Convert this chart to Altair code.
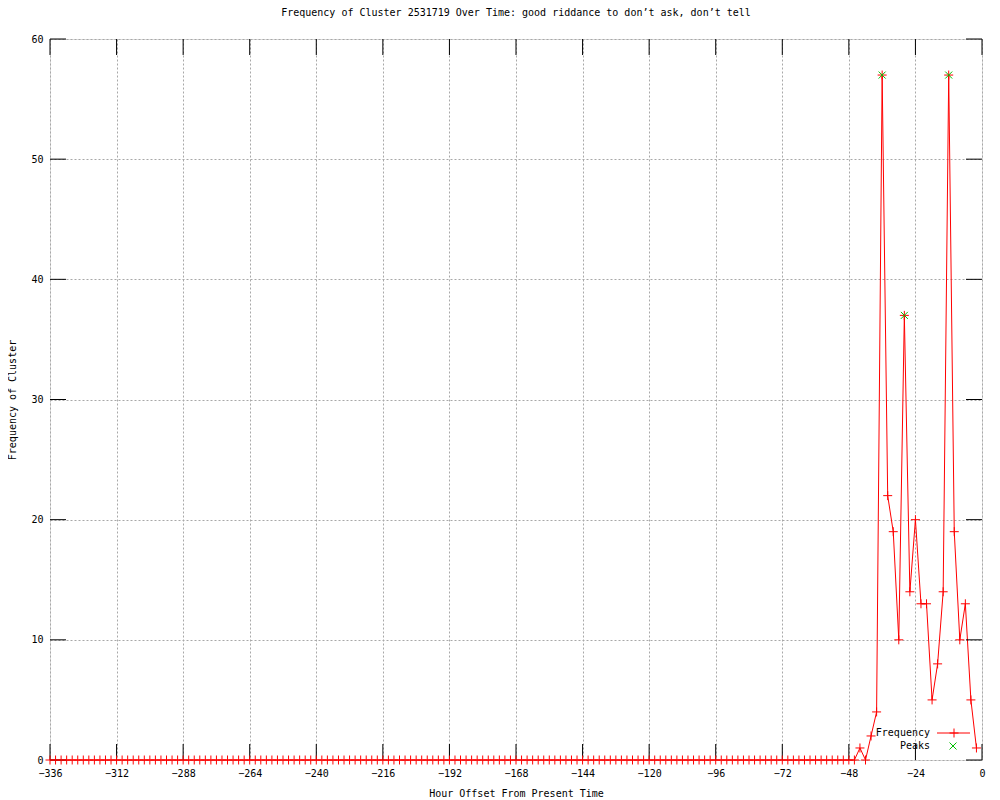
import altair as alt
import pandas as pd

# ---- data ----
hours = list(range(-336, 0, 2))
freq = [
    0, 0, 0, 0, 0, 0, 0, 0, 0, 0, 0, 0, 0, 0, 0, 0, 0, 0, 0, 0,
    0, 0, 0, 0, 0, 0, 0, 0, 0, 0, 0, 0, 0, 0, 0, 0, 0, 0, 0, 0,
    0, 0, 0, 0, 0, 0, 0, 0, 0, 0, 0, 0, 0, 0, 0, 0, 0, 0, 0, 0,
    0, 0, 0, 0, 0, 0, 0, 0, 0, 0, 0, 0, 0, 0, 0, 0, 0, 0, 0, 0,
    0, 0, 0, 0, 0, 0, 0, 0, 0, 0, 0, 0, 0, 0, 0, 0, 0, 0, 0, 0,
    0, 0, 0, 0, 0, 0, 0, 0, 0, 0, 0, 0, 0, 0, 0, 0, 0, 0, 0, 0,
    0, 0, 0, 0, 0, 0, 0, 0, 0, 0, 0, 0, 0, 0, 0, 0, 0, 0, 0, 0,
    0, 0, 0, 0, 0, 0,
    1, 0, 2, 4, 57, 22, 19, 10, 37, 14, 20, 13, 13, 5, 8, 14, 57, 19, 10, 13, 5, 1,
]
peak_hours = [-36, -28, -12]
peak_values = [57, 37, 57]
x_ticks = list(range(-336, 1, 24))
y_ticks = [0, 10, 20, 30, 40, 50, 60]
legend_labels = ["Frequency", "Peaks"]

FONT = "DejaVu Sans Mono"
W, H = 932, 721
TL = 16
RED = "#ff0000"
GREEN = "#00c000"
PLUS = "M-1,0L1,0M0,-1L0,1"
XSHAPE = "M-1,-1L1,1M-1,1L1,-1"

df = pd.DataFrame({"h": hours, "f": freq})
peaks = pd.DataFrame({"h": peak_hours, "f": peak_values})
xt = pd.DataFrame({"t": x_ticks})
yt = pd.DataFrame({"t": y_ticks})

xscale = alt.Scale(domain=[-336, 0], nice=False, zero=False)
yscale = alt.Scale(domain=[0, 60], nice=False)

common = dict(grid=True, gridDash=[2, 2], gridColor="#a8a8a8", ticks=False, tickSize=0,
              domain=False, labelFont=FONT, labelFontSize=10, labelColor="black",
              titleFont=FONT, titleFontSize=10, titleFontWeight="normal", titleColor="black")
xaxis = alt.Axis(values=x_ticks, title="Hour Offset From Present Time",
                 labelPadding=8, titlePadding=10, labelFlush=False, **common)
yaxis = alt.Axis(values=y_ticks, title="Frequency of Cluster",
                 labelPadding=7, titlePadding=13, **common)

base = alt.Chart(df)
line = base.mark_line(color=RED, strokeWidth=1).encode(
    x=alt.X("h:Q", scale=xscale, axis=xaxis),
    y=alt.Y("f:Q", scale=yscale, axis=yaxis),
)
pts = base.mark_point(shape=PLUS, filled=False, color=RED, size=81, strokeWidth=1, opacity=1).encode(
    x=alt.X("h:Q", scale=xscale), y=alt.Y("f:Q", scale=yscale)
)
pk = alt.Chart(peaks).mark_point(shape=XSHAPE, filled=False, color=GREEN, size=49, strokeWidth=1, opacity=1).encode(
    x=alt.X("h:Q", scale=xscale), y=alt.Y("f:Q", scale=yscale)
)

# inward ticks (bottom/top/left/right)
tb = alt.Chart(xt).mark_rule(color="black", strokeWidth=1).encode(
    x=alt.X("t:Q", scale=xscale), y=alt.value(H), y2=alt.value(H - TL))
tt = alt.Chart(xt).mark_rule(color="black", strokeWidth=1).encode(
    x=alt.X("t:Q", scale=xscale), y=alt.value(0), y2=alt.value(TL))
tlft = alt.Chart(yt).mark_rule(color="black", strokeWidth=1).encode(
    y=alt.Y("t:Q", scale=yscale), x=alt.value(0), x2=alt.value(TL))
trgt = alt.Chart(yt).mark_rule(color="black", strokeWidth=1).encode(
    y=alt.Y("t:Q", scale=yscale), x=alt.value(W), x2=alt.value(W - TL))

# legend
leg1 = alt.Chart(pd.DataFrame({"l": [legend_labels[0]]})).mark_text(
    align="right", baseline="middle", font=FONT, fontSize=10, color="black").encode(
    text="l:N", x=alt.value(880), y=alt.value(694))
leg2 = alt.Chart(pd.DataFrame({"l": [legend_labels[1]]})).mark_text(
    align="right", baseline="middle", font=FONT, fontSize=10, color="black").encode(
    text="l:N", x=alt.value(880), y=alt.value(707))
leg_line = alt.Chart(pd.DataFrame({"l": [legend_labels[0]]})).mark_rule(color=RED, strokeWidth=1).encode(
    x=alt.value(887), x2=alt.value(920), y=alt.value(694))
leg_plus = alt.Chart(pd.DataFrame({"l": [legend_labels[0]]})).mark_point(
    shape=PLUS, filled=False, color=RED, size=81, strokeWidth=1, opacity=1).encode(
    x=alt.value(904), y=alt.value(694))
leg_x = alt.Chart(pd.DataFrame({"l": [legend_labels[1]]})).mark_point(
    shape=XSHAPE, filled=False, color=GREEN, size=49, strokeWidth=1, opacity=1).encode(
    x=alt.value(903), y=alt.value(707))

chart = alt.layer(
    line, tb, tt, tlft, trgt, pts, pk, leg1, leg2, leg_line, leg_plus, leg_x
).properties(
    width=W, height=H,
    title=alt.TitleParams(
        "Frequency of Cluster 2531719 Over Time: good riddance to don\u2019t ask, don\u2019t tell",
        font=FONT, fontSize=10, fontWeight="normal", anchor="middle", offset=16, color="black"),
    autosize=alt.AutoSizeParams(type="none"),
    padding={"left": 42, "top": 31, "right": 10, "bottom": 40},
).configure_view(
    stroke="black", strokeWidth=1
).configure(background="white")

chart.save("out.html", embed_options={"renderer": "svg", "actions": False})
